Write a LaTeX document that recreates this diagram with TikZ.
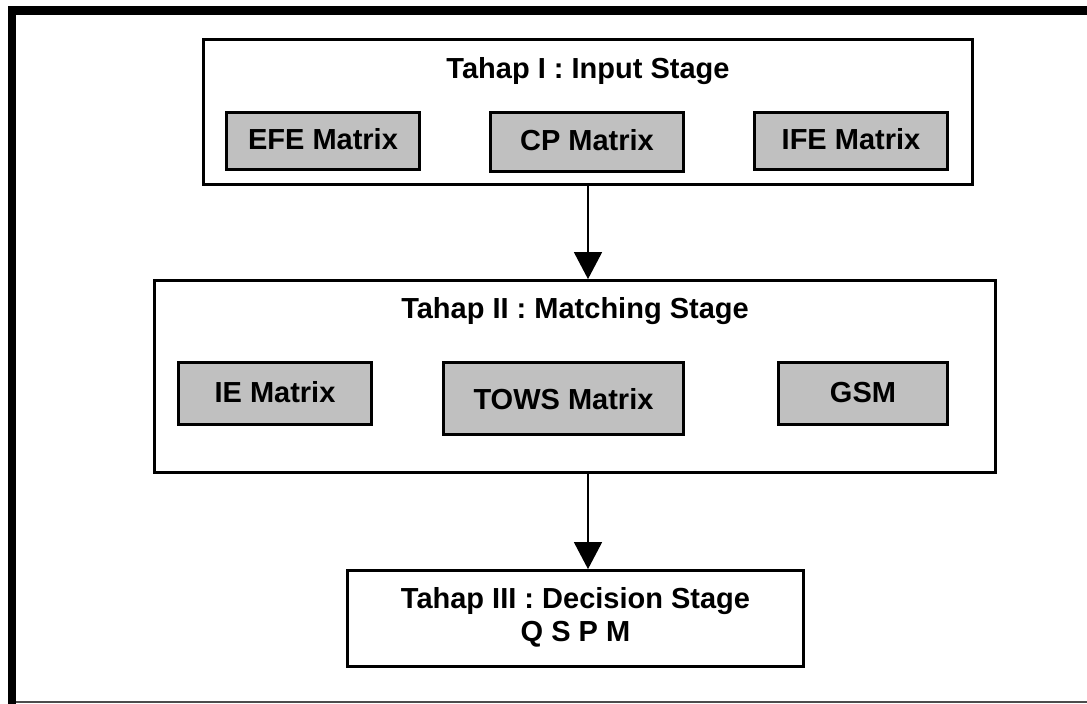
\documentclass[tikz,border=0pt]{standalone}
\usepackage{fontspec}
\setmainfont{Liberation Sans}
\usetikzlibrary{arrows.meta}

\definecolor{boxgray}{RGB}{192,192,192}

\tikzset{
  stagebox/.style={draw=black, line width=2.8pt, fill=white, inner sep=0pt},
  matrixbox/.style={draw=black, line width=2.8pt, fill=boxgray, inner sep=0pt,
    font=\fontsize{29}{34}\selectfont\bfseries, text height=21pt, text depth=4pt},
  stagetitle/.style={inner sep=0pt, anchor=base, font=\fontsize{29}{34}\selectfont\bfseries},
  flow/.style={line width=1.5pt, -{Triangle[length=27pt, width=28pt]}}
}

\begin{document}
\begin{tikzpicture}[x=1pt, y=-1pt]
  \useasboundingbox (0,0) rectangle (1087,704);

  % page frame
  \fill[black] (8,6) rectangle (16,704);
  \fill[black] (8,6) rectangle (1087,14.6);
  \draw[black!70, line width=1.2pt] (16,702) -- (1087,702);

  % stage 1
  \node[stagebox, minimum width=769pt, minimum height=145pt] (input) at (588,112) {};
  \node[stagetitle] (inputtitle) at (588,78) {Tahap I : Input Stage};
  \node[matrixbox, minimum width=193pt, minimum height=57pt] (efe) at (323,141) {EFE Matrix};
  \node[matrixbox, minimum width=193pt, minimum height=59pt] (cp) at (587,142) {CP Matrix};
  \node[matrixbox, minimum width=193pt, minimum height=57pt] (ife) at (851,141) {IFE Matrix};

  % stage 2
  \node[stagebox, minimum width=841pt, minimum height=192pt] (matching) at (575,376.5) {};
  \node[stagetitle] (matchingtitle) at (575,318) {Tahap II : Matching Stage};
  \node[matrixbox, minimum width=193pt, minimum height=62pt] (ie) at (275,393.5) {IE Matrix};
  \node[matrixbox, minimum width=240pt, minimum height=72pt, text depth=0pt] (tows) at (563.5,398.5) {TOWS Matrix};
  \node[matrixbox, minimum width=169pt, minimum height=62pt] (gsm) at (863,393.5) {GSM};

  % stage 3
  \node[stagebox, minimum width=456pt, minimum height=96pt] (decision) at (575.5,618.5) {};
  \node[stagetitle] (decisiontitle) at (575.5,608) {Tahap III : Decision Stage};
  \node[stagetitle] (qspm) at (575.5,641) {Q S P M};

  % flow between stages
  \draw[flow] (input.south) -- (input.south |- matching.north);
  \draw[flow] (input.south |- matching.south) -- (input.south |- decision.north);
\end{tikzpicture}
\end{document}
